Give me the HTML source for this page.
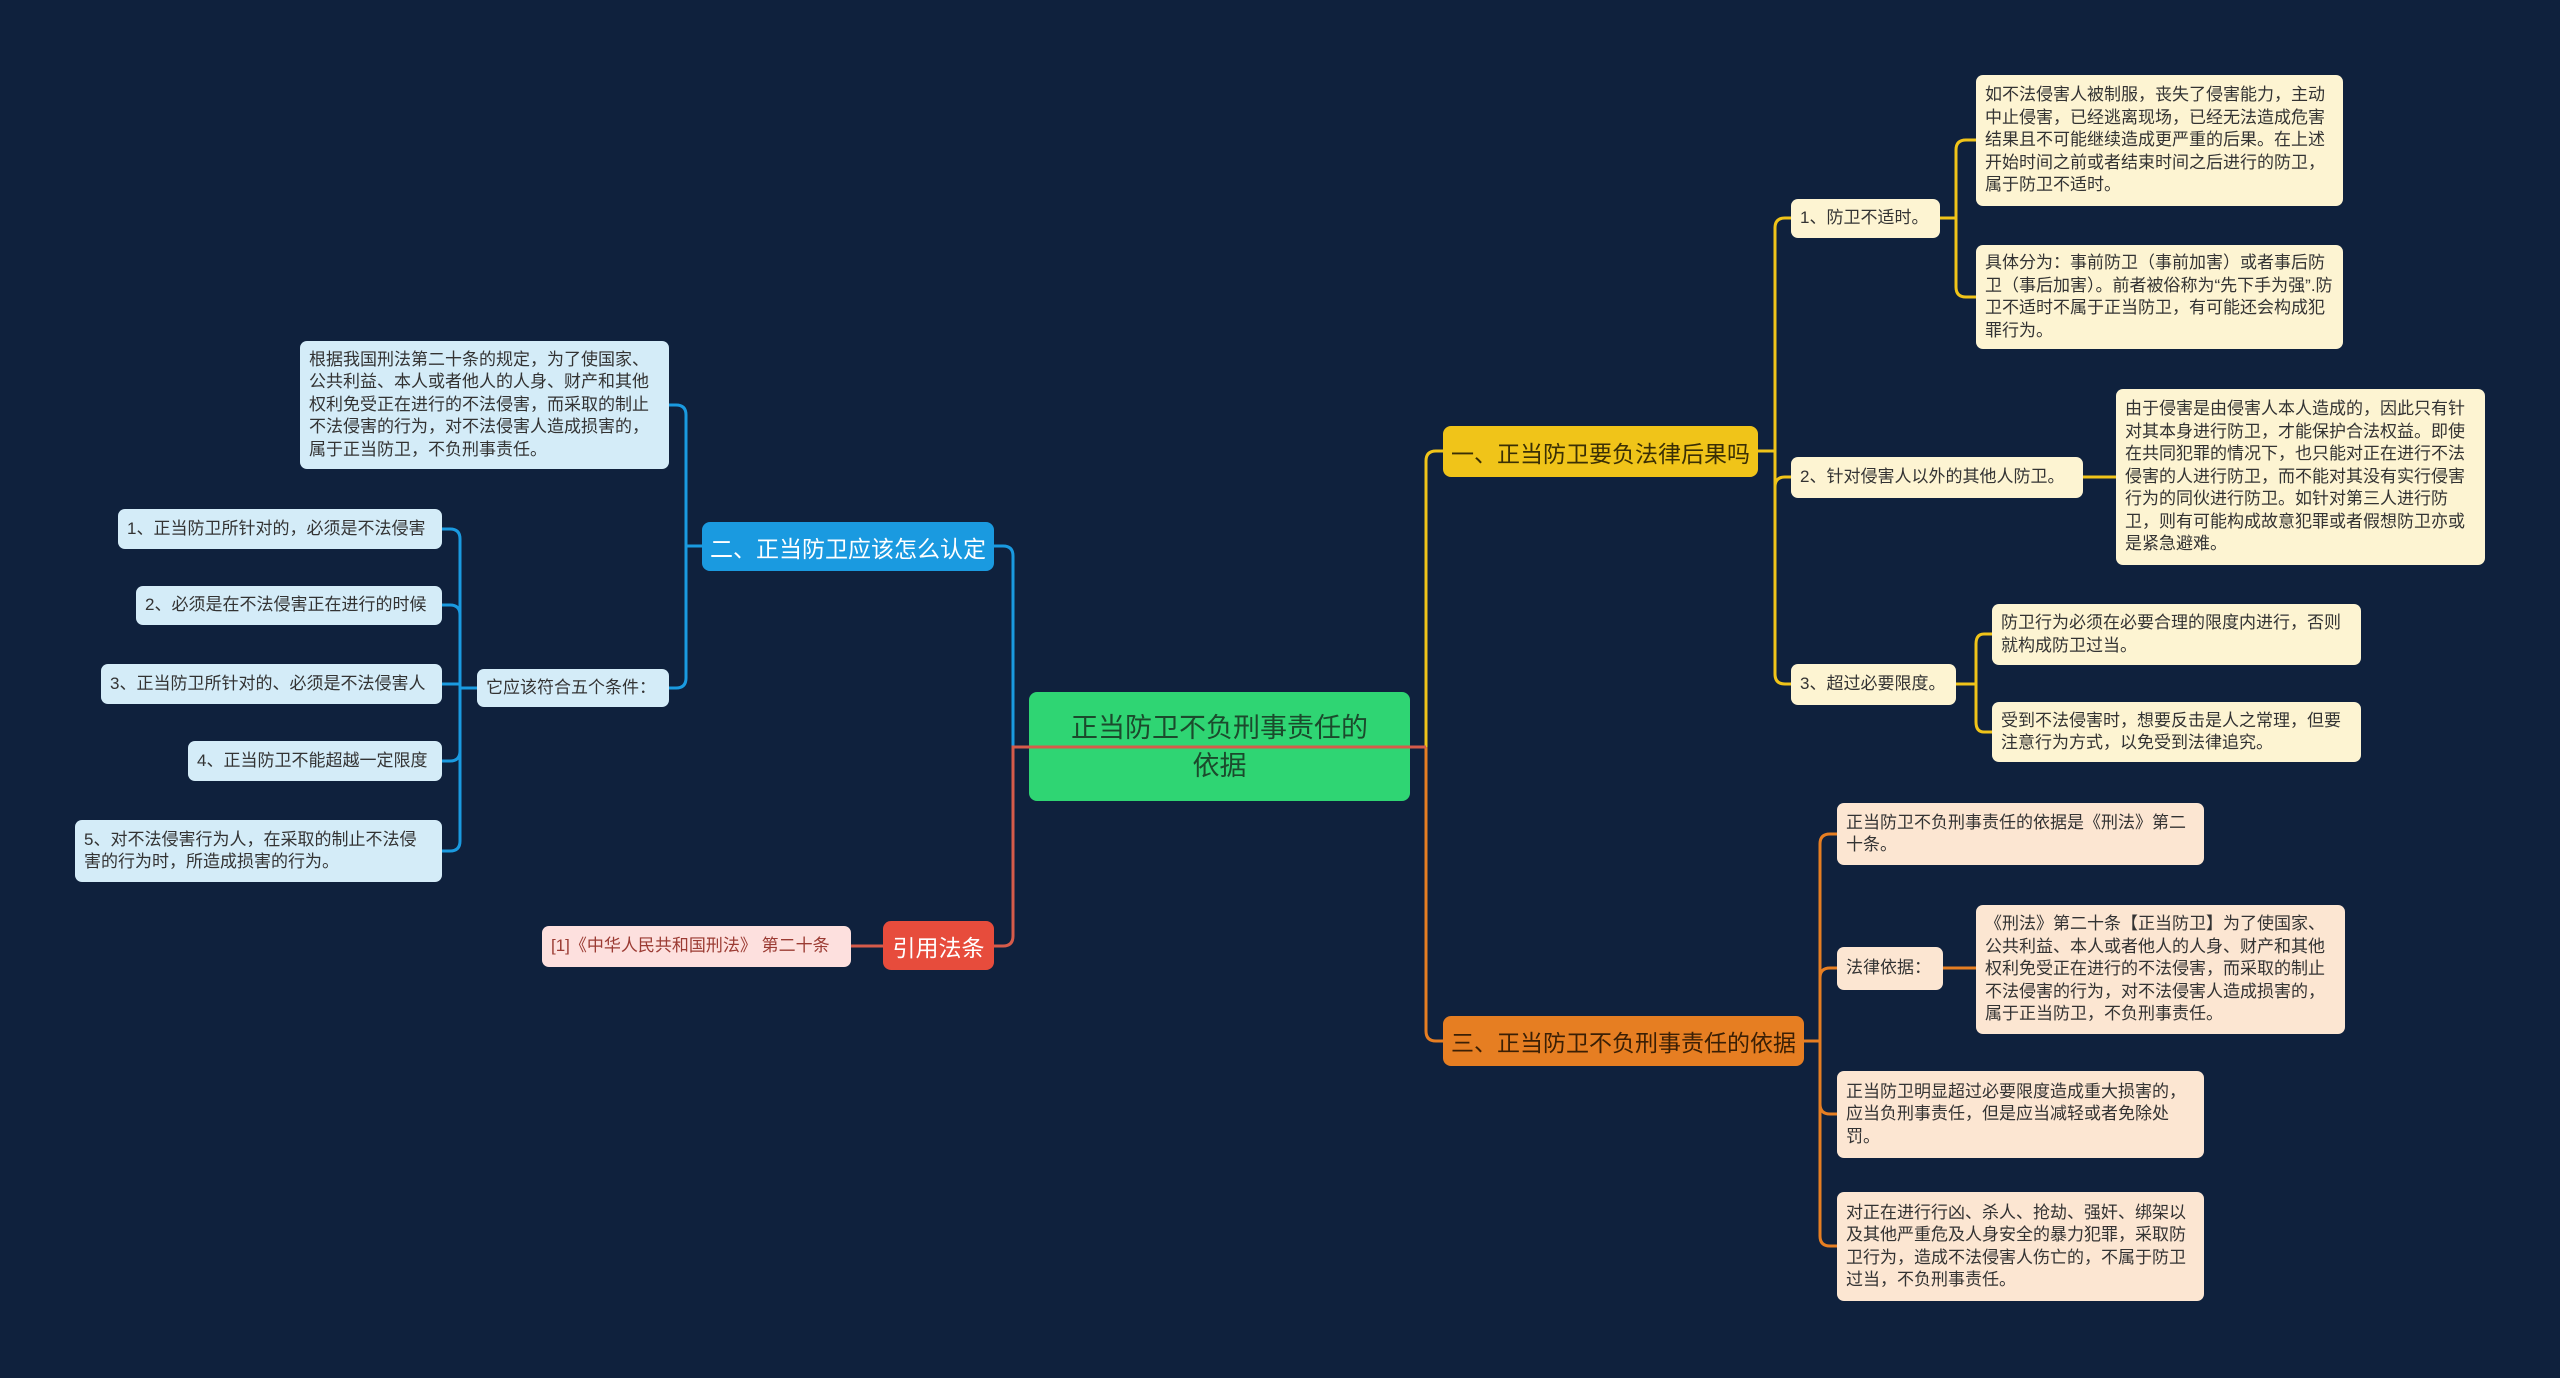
<!DOCTYPE html>
<html><head><meta charset="utf-8">
<style>
html,body{margin:0;padding:0}
body{width:2560px;height:1378px;background:#0f213d;position:relative;overflow:hidden;font-family:"Liberation Sans","Noto Sans CJK SC",sans-serif}
.n{position:absolute;box-sizing:border-box;border-radius:7px;font-size:17px;line-height:22.5px;color:#333;padding:0 9px;display:flex;align-items:center}
.b{background:#d4ecf8}
.y{background:#fdf4d2}
.o{background:#fce6d2}
.p{background:#fde0de;color:#9b3b33}
.main{position:absolute;box-sizing:border-box;border-radius:8px;display:flex;align-items:center;justify-content:center;text-align:center}
svg{position:absolute;left:0;top:0;z-index:5}
</style></head><body>

<div class="main" style="left:1029px;top:692px;width:381px;height:109px;background:#2fd573;color:#1b4a2c;font-size:27px;line-height:38px;padding:0 12px"><span>正当防卫不负刑事责任的<br>依据</span></div>

<div class="main" style="left:1443px;top:426px;width:315px;height:51px;background:#f0c419;color:#3a2f05;font-size:23px">一、正当防卫要负法律后果吗</div>
<div class="main" style="left:702px;top:522px;width:292px;height:49px;background:#1a9ae0;color:#fff;font-size:23px">二、正当防卫应该怎么认定</div>
<div class="main" style="left:1443px;top:1016px;width:361px;height:50px;background:#e67e22;color:#3a1f05;font-size:23px">三、正当防卫不负刑事责任的依据</div>
<div class="main" style="left:883px;top:921px;width:111px;height:49px;background:#e74c3c;color:#fff;font-size:23px">引用法条</div>

<!-- yellow -->
<div class="n y" style="left:1791px;top:199px;width:149px;height:39px">1、防卫不适时。</div>
<div class="n y" style="left:1976px;top:75px;width:367px;height:131px">如不法侵害人被制服，丧失了侵害能力，主动中止侵害，已经逃离现场，已经无法造成危害结果且不可能继续造成更严重的后果。在上述开始时间之前或者结束时间之后进行的防卫，属于防卫不适时。</div>
<div class="n y" style="left:1976px;top:245px;width:367px;height:104px">具体分为：事前防卫（事前加害）或者事后防卫（事后加害）。前者被俗称为“先下手为强”.防卫不适时不属于正当防卫，有可能还会构成犯罪行为。</div>
<div class="n y" style="left:1791px;top:457px;width:292px;height:41px">2、针对侵害人以外的其他人防卫。</div>
<div class="n y" style="left:2116px;top:389px;width:369px;height:176px">由于侵害是由侵害人本人造成的，因此只有针对其本身进行防卫，才能保护合法权益。即使在共同犯罪的情况下，也只能对正在进行不法侵害的人进行防卫，而不能对其没有实行侵害行为的同伙进行防卫。如针对第三人进行防卫，则有可能构成故意犯罪或者假想防卫亦或是紧急避难。</div>
<div class="n y" style="left:1791px;top:664px;width:165px;height:41px">3、超过必要限度。</div>
<div class="n y" style="left:1992px;top:604px;width:369px;height:61px">防卫行为必须在必要合理的限度内进行，否则就构成防卫过当。</div>
<div class="n y" style="left:1992px;top:702px;width:369px;height:60px">受到不法侵害时，想要反击是人之常理，但要注意行为方式，以免受到法律追究。</div>

<!-- orange -->
<div class="n o" style="left:1837px;top:803px;width:367px;height:62px">正当防卫不负刑事责任的依据是《刑法》第二十条。</div>
<div class="n o" style="left:1837px;top:947px;width:106px;height:43px">法律依据：</div>
<div class="n o" style="left:1976px;top:905px;width:369px;height:129px">《刑法》第二十条【正当防卫】为了使国家、公共利益、本人或者他人的人身、财产和其他权利免受正在进行的不法侵害，而采取的制止不法侵害的行为，对不法侵害人造成损害的，属于正当防卫，不负刑事责任。</div>
<div class="n o" style="left:1837px;top:1071px;width:367px;height:87px">正当防卫明显超过必要限度造成重大损害的，应当负刑事责任，但是应当减轻或者免除处罚。</div>
<div class="n o" style="left:1837px;top:1192px;width:367px;height:109px">对正在进行行凶、杀人、抢劫、强奸、绑架以及其他严重危及人身安全的暴力犯罪，采取防卫行为，造成不法侵害人伤亡的，不属于防卫过当，不负刑事责任。</div>

<!-- blue -->
<div class="n b" style="left:300px;top:341px;width:369px;height:128px">根据我国刑法第二十条的规定，为了使国家、公共利益、本人或者他人的人身、财产和其他权利免受正在进行的不法侵害，而采取的制止不法侵害的行为，对不法侵害人造成损害的，属于正当防卫，不负刑事责任。</div>
<div class="n b" style="left:477px;top:669px;width:192px;height:38px">它应该符合五个条件：</div>
<div class="n b" style="left:118px;top:509px;width:324px;height:40px">1、正当防卫所针对的，必须是不法侵害</div>
<div class="n b" style="left:136px;top:586px;width:306px;height:39px">2、必须是在不法侵害正在进行的时候</div>
<div class="n b" style="left:101px;top:664px;width:341px;height:40px">3、正当防卫所针对的、必须是不法侵害人</div>
<div class="n b" style="left:188px;top:741px;width:254px;height:40px">4、正当防卫不能超越一定限度</div>
<div class="n b" style="left:75px;top:820px;width:367px;height:62px">5、对不法侵害行为人，在采取的制止不法侵害的行为时，所造成损害的行为。</div>

<div class="n p" style="left:542px;top:926px;width:309px;height:41px">[1]《中华人民共和国刑法》 第二十条</div>

<svg width="2560" height="1378" fill="none" stroke-width="3">
<g stroke="#f0c419">
<path d="M1409 747 H1426 V461 Q1426 451 1436 451 H1443"/>
<path d="M1758 451 H1775 V228 Q1775 218 1785 218 H1791"/>
<path d="M1775 451 V487 Q1775 477 1785 477 H1791"/>
<path d="M1775 451 V674 Q1775 684 1785 684 H1791"/>
<path d="M1940 218 H1956 V150 Q1956 140 1966 140 H1976"/>
<path d="M1956 218 V287 Q1956 297 1966 297 H1976"/>
<path d="M2083 477 H2116"/>
<path d="M1956 684 H1976 V644 Q1976 634 1984 634 H1992"/>
<path d="M1976 684 V722 Q1976 732 1984 732 H1992"/>
</g>
<g stroke="#e67e22">
<path d="M1426 747 V1031 Q1426 1041 1436 1041 H1443"/>
<path d="M1804 1041 H1820 V844 Q1820 834 1830 834 H1837"/>
<path d="M1820 1041 V978 Q1820 968 1830 968 H1837"/>
<path d="M1820 1041 V1104 Q1820 1114 1830 1114 H1837"/>
<path d="M1820 1041 V1236 Q1820 1246 1830 1246 H1837"/>
<path d="M1943 968 H1976"/>
</g>
<g stroke="#1a9ae0">
<path d="M1029 747 H1013 V556 Q1013 546 1003 546 H994"/>
<path d="M702 546 H686 V415 Q686 405 676 405 H669"/>
<path d="M686 546 V678 Q686 688 676 688 H669"/>
<path d="M477 688 H460 V539 Q460 529 450 529 H442"/>
<path d="M460 688 V615 Q460 605 450 605 H442"/>
<path d="M460 688 V684 H442"/>
<path d="M460 688 V751 Q460 761 450 761 H442"/>
<path d="M460 688 V841 Q460 851 450 851 H442"/>
</g>
<g stroke="#d65b4a">
<path d="M1426 747 H1013 V936 Q1013 946 1003 946 H994"/>
<path d="M883 946 H851"/>
</g>
</svg>
</body></html>
